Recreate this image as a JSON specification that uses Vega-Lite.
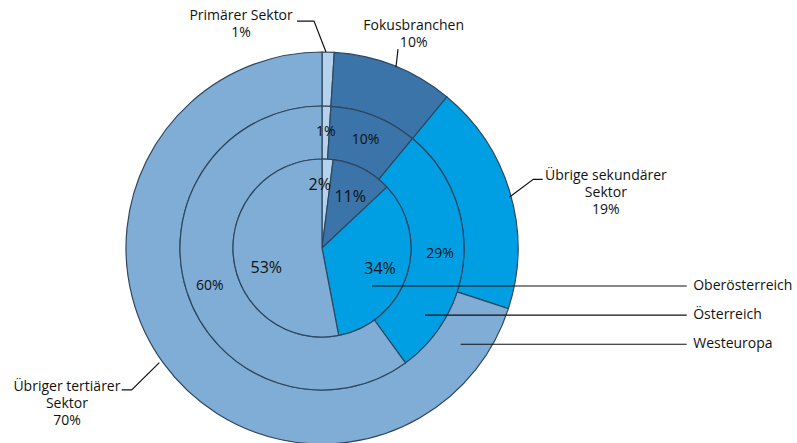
{
  "$schema": "https://vega.github.io/schema/vega-lite/v6.json",
  "width": 644,
  "height": 390,
  "autosize": {"type": "none"},
  "padding": {"left": 0, "top": 53, "right": 153, "bottom": 0},
  "background": "white",
  "config": {"view": {"stroke": null}, "text": {"font": "Open Sans"}},
  "datasets": {
    "rings": [
      {"ring": "Oberösterreich", "cat": "Primärer Sektor", "idx": 1, "value": 2, "pct": "2%", "label": ""},
      {"ring": "Oberösterreich", "cat": "Fokusbranchen", "idx": 2, "value": 11, "pct": "11%", "label": ""},
      {"ring": "Oberösterreich", "cat": "Übrige sekundärer Sektor", "idx": 3, "value": 34, "pct": "34%", "label": ""},
      {"ring": "Oberösterreich", "cat": "Übriger tertiärer Sektor", "idx": 4, "value": 53, "pct": "53%", "label": ""},
      {"ring": "Österreich", "cat": "Primärer Sektor", "idx": 1, "value": 1, "pct": "1%", "label": ""},
      {"ring": "Österreich", "cat": "Fokusbranchen", "idx": 2, "value": 10, "pct": "10%", "label": ""},
      {"ring": "Österreich", "cat": "Übrige sekundärer Sektor", "idx": 3, "value": 29, "pct": "29%", "label": ""},
      {"ring": "Österreich", "cat": "Übriger tertiärer Sektor", "idx": 4, "value": 60, "pct": "60%", "label": ""},
      {"ring": "Westeuropa", "cat": "Primärer Sektor", "idx": 1, "value": 1, "pct": "1%", "label": "Primärer Sektor\n1%"},
      {"ring": "Westeuropa", "cat": "Fokusbranchen", "idx": 2, "value": 10, "pct": "10%", "label": "Fokusbranchen\n10%"},
      {"ring": "Westeuropa", "cat": "Übrige sekundärer Sektor", "idx": 3, "value": 19, "pct": "19%", "label": "Übrige sekundärer\nSektor\n19%"},
      {"ring": "Westeuropa", "cat": "Übriger tertiärer Sektor", "idx": 4, "value": 70, "pct": "70%", "label": "Übriger tertiärer\nSektor\n70%"}
    ],
    "leaders": [
      {"id": "p", "k": 0, "x": 2.04, "y": 100.0},
      {"id": "p", "k": 1, "x": -4.08, "y": 115.8},
      {"id": "p", "k": 2, "x": -12.76, "y": 115.8},
      {"id": "f", "k": 0, "x": 37.76, "y": 92.35},
      {"id": "f", "k": 1, "x": 38.78, "y": 101.5},
      {"id": "s", "k": 0, "x": 95.56, "y": 25.87},
      {"id": "s", "k": 1, "x": 107.8, "y": 35.05},
      {"id": "s", "k": 2, "x": 112.6, "y": 35.05},
      {"id": "t", "k": 0, "x": -83.0, "y": -58.5},
      {"id": "t", "k": 1, "x": -97.1, "y": -72.4},
      {"id": "t", "k": 2, "x": -102.2, "y": -72.4},
      {"id": "o", "k": 0, "x": 25.5, "y": -19.4},
      {"id": "o", "k": 1, "x": 186.1, "y": -19.4},
      {"id": "a", "k": 0, "x": 52.55, "y": -34.2},
      {"id": "a", "k": 1, "x": 186.1, "y": -34.2},
      {"id": "w", "k": 0, "x": 70.77, "y": -49.1},
      {"id": "w", "k": 1, "x": 186.1, "y": -49.1}
    ],
    "series": [
      {"name": "Oberösterreich", "x": 189.4, "y": -19.4},
      {"name": "Österreich", "x": 189.4, "y": -34.2},
      {"name": "Westeuropa", "x": 189.4, "y": -49.1}
    ]
  },
  "layer": [
    {
      "data": {"name": "rings"},
      "transform": [{"filter": "datum.ring === 'Westeuropa'"}],
      "mark": {"type": "arc", "radius": 196, "radius2": 142, "stroke": "#2d4760", "strokeWidth": 1.2},
      "encoding": {
        "theta": {"field": "value", "type": "quantitative", "stack": true},
        "color": {"field": "cat", "type": "nominal", "legend": null,
          "scale": {"domain": ["Primärer Sektor", "Fokusbranchen", "Übrige sekundärer Sektor", "Übriger tertiärer Sektor"],
                    "range": ["#b6d1eb", "#3a74a8", "#009fe3", "#7fadd5"]}},
        "order": {"field": "idx", "type": "quantitative"}
      }
    },
    {
      "data": {"name": "rings"},
      "transform": [{"filter": "datum.ring === 'Österreich'"}],
      "mark": {"type": "arc", "radius": 142, "radius2": 89, "stroke": "#2d4760", "strokeWidth": 1.2},
      "encoding": {
        "theta": {"field": "value", "type": "quantitative", "stack": true},
        "color": {"field": "cat", "type": "nominal", "legend": null},
        "order": {"field": "idx", "type": "quantitative"}
      }
    },
    {
      "data": {"name": "rings"},
      "transform": [{"filter": "datum.ring === 'Oberösterreich'"}],
      "mark": {"type": "arc", "radius": 89, "radius2": 0, "stroke": "#2d4760", "strokeWidth": 1.2},
      "encoding": {
        "theta": {"field": "value", "type": "quantitative", "stack": true},
        "color": {"field": "cat", "type": "nominal", "legend": null},
        "order": {"field": "idx", "type": "quantitative"}
      }
    },
    {
      "data": {"name": "rings"},
      "transform": [{"filter": "datum.ring === 'Oberösterreich'"}],
      "mark": {"type": "text", "radius": 60, "dx": -6, "dy": -3, "fontSize": 16, "fill": "#111111", "align": "center", "baseline": "middle"},
      "encoding": {
        "theta": {"field": "value", "type": "quantitative", "stack": true},
        "detail": {"field": "cat"},
        "order": {"field": "idx", "type": "quantitative"},
        "text": {"condition": {"test": "datum.cat === 'Primärer Sektor'", "field": "pct"}, "value": ""}
      }
    },
    {
      "data": {"name": "rings"},
      "transform": [{"filter": "datum.ring === 'Oberösterreich'"}],
      "mark": {"type": "text", "radius": 60, "dx": 1, "dy": 2, "fontSize": 16, "fill": "#111111", "align": "center", "baseline": "middle"},
      "encoding": {
        "theta": {"field": "value", "type": "quantitative", "stack": true},
        "detail": {"field": "cat"},
        "order": {"field": "idx", "type": "quantitative"},
        "text": {"condition": {"test": "datum.cat === 'Fokusbranchen' || datum.cat === 'Übrige sekundärer Sektor'", "field": "pct"}, "value": ""}
      }
    },
    {
      "data": {"name": "rings"},
      "transform": [{"filter": "datum.ring === 'Oberösterreich'"}],
      "mark": {"type": "text", "radius": 60, "dx": 4, "dy": 14, "fontSize": 16, "fill": "#111111", "align": "center", "baseline": "middle"},
      "encoding": {
        "theta": {"field": "value", "type": "quantitative", "stack": true},
        "detail": {"field": "cat"},
        "order": {"field": "idx", "type": "quantitative"},
        "text": {"condition": {"test": "datum.cat === 'Übriger tertiärer Sektor'", "field": "pct"}, "value": ""}
      }
    },
    {
      "data": {"name": "rings"},
      "transform": [{"filter": "datum.ring === 'Österreich'"}],
      "mark": {"type": "text", "radius": 118, "dy": 2, "fontSize": 14, "fill": "#111111", "align": "center", "baseline": "middle"},
      "encoding": {
        "theta": {"field": "value", "type": "quantitative", "stack": true},
        "detail": {"field": "cat"},
        "order": {"field": "idx", "type": "quantitative"},
        "text": {"field": "pct"}
      }
    },
    {
      "data": {"name": "rings"},
      "transform": [{"filter": "datum.ring === 'Westeuropa'"}],
      "mark": {"type": "text", "radius": 225, "dx": -88, "dy": -7, "fontSize": 14, "lineHeight": 17, "lineBreak": "\n", "fill": "#111111", "align": "center", "baseline": "middle"},
      "encoding": {
        "theta": {"field": "value", "type": "quantitative", "stack": true},
        "detail": {"field": "cat"},
        "order": {"field": "idx", "type": "quantitative"},
        "text": {"condition": {"test": "datum.cat === 'Primärer Sektor'", "field": "label"}, "value": ""}
      }
    },
    {
      "data": {"name": "rings"},
      "transform": [{"filter": "datum.ring === 'Westeuropa'"}],
      "mark": {"type": "text", "radius": 230, "dx": 7, "dy": -8, "fontSize": 14, "lineHeight": 17, "lineBreak": "\n", "fill": "#111111", "align": "center", "baseline": "middle"},
      "encoding": {
        "theta": {"field": "value", "type": "quantitative", "stack": true},
        "detail": {"field": "cat"},
        "order": {"field": "idx", "type": "quantitative"},
        "text": {"condition": {"test": "datum.cat === 'Fokusbranchen'", "field": "label"}, "value": ""}
      }
    },
    {
      "data": {"name": "rings"},
      "transform": [{"filter": "datum.ring === 'Westeuropa'"}],
      "mark": {"type": "text", "radius": 230, "dx": 63, "dy": -8, "fontSize": 14, "lineHeight": 17, "lineBreak": "\n", "fill": "#111111", "align": "center", "baseline": "middle"},
      "encoding": {
        "theta": {"field": "value", "type": "quantitative", "stack": true},
        "detail": {"field": "cat"},
        "order": {"field": "idx", "type": "quantitative"},
        "text": {"condition": {"test": "datum.cat === 'Übrige sekundärer Sektor'", "field": "label"}, "value": ""}
      }
    },
    {
      "data": {"name": "rings"},
      "transform": [{"filter": "datum.ring === 'Westeuropa'"}],
      "mark": {"type": "text", "radius": 230, "dx": -69, "dy": 4, "fontSize": 14, "lineHeight": 17, "lineBreak": "\n", "fill": "#111111", "align": "center", "baseline": "middle"},
      "encoding": {
        "theta": {"field": "value", "type": "quantitative", "stack": true},
        "detail": {"field": "cat"},
        "order": {"field": "idx", "type": "quantitative"},
        "text": {"condition": {"test": "datum.cat === 'Übriger tertiärer Sektor'", "field": "label"}, "value": ""}
      }
    },
    {
      "data": {"name": "leaders"},
      "mark": {"type": "line", "stroke": "#111111", "strokeWidth": 1.2},
      "encoding": {
        "x": {"field": "x", "type": "quantitative", "axis": null, "scale": {"domain": [-164.29, 164.29], "nice": false, "zero": false}},
        "y": {"field": "y", "type": "quantitative", "axis": null, "scale": {"domain": [-99.49, 99.49], "nice": false, "zero": false}},
        "detail": {"field": "id"},
        "order": {"field": "k", "type": "quantitative"}
      }
    },
    {
      "data": {"name": "series"},
      "mark": {"type": "text", "fontSize": 14, "fill": "#111111", "align": "left", "baseline": "middle"},
      "encoding": {
        "x": {"field": "x", "type": "quantitative"},
        "y": {"field": "y", "type": "quantitative"},
        "text": {"field": "name"}
      }
    }
  ]
}
